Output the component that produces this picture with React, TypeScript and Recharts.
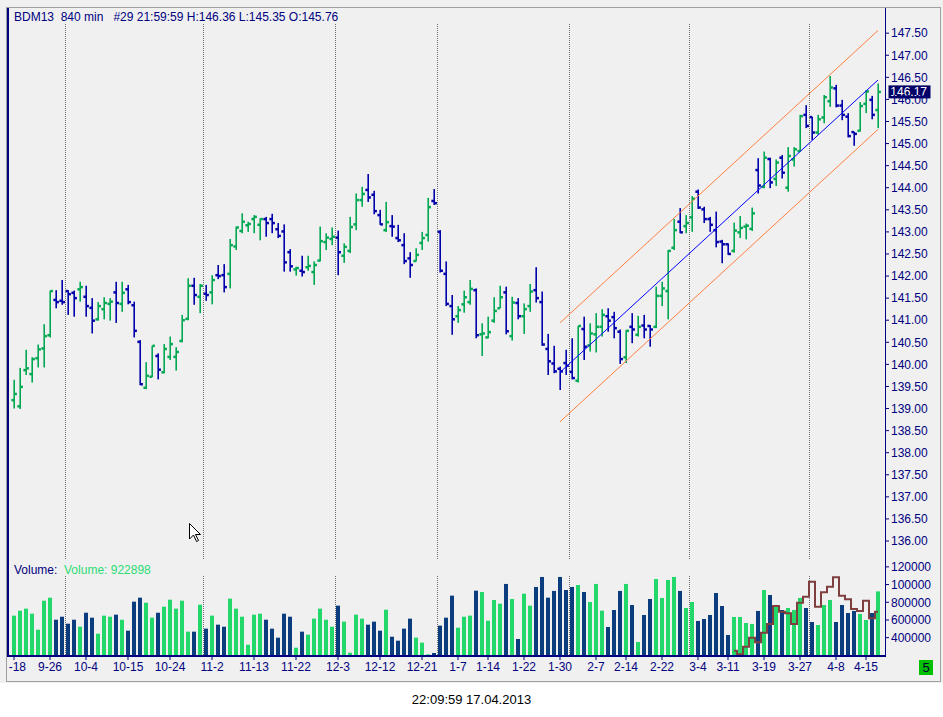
import React from 'react';
import { ComposedChart, Bar, Line, XAxis, YAxis, ReferenceLine, Cell } from 'recharts';

// 840 min bars, 145 of them
const opens = [
  139.19, 139.05, 139.87, 139.78, 140.14, 140.36, 140.66, 141.46, 141.44, 141.66,
  141.62, 141.70, 141.53, 141.28, 141.02, 141.25, 141.37, 141.63, 141.37, 141.70,
  141.34, 140.51, 139.47, 139.72, 140.19, 139.82, 140.17, 140.17, 140.53, 141.03,
  141.78, 141.53, 141.60, 141.63, 142.02, 142.02, 142.05, 142.67, 143.02, 143.15,
  143.29, 143.16, 143.29, 143.29, 143.06, 143.01, 142.54, 142.15, 142.12, 142.20,
  142.09, 142.35, 142.77, 142.84, 142.87, 142.46, 142.57, 143.17, 143.72, 143.95,
  143.84, 143.38, 143.04, 143.13, 142.86, 142.70, 142.40, 142.34, 142.75, 142.93,
  143.70, 143.00, 142.05, 141.32, 141.09, 141.36, 141.41, 141.68, 140.68, 140.61,
  140.99, 141.27, 141.63, 140.64, 141.39, 141.09, 141.32, 141.68, 141.41, 140.35,
  140.02, 139.90, 140.03, 139.83, 139.63, 140.80, 140.43, 140.68, 140.85, 141.09,
  141.07, 140.74, 140.16, 140.85, 140.67, 140.88, 140.87, 140.85, 141.55, 141.66,
  142.64, 143.23, 143.13, 143.33, 143.91, 143.51, 143.29, 143.04, 142.78, 142.72,
  142.57, 142.99, 143.12, 143.07, 144.40, 144.02, 144.65, 144.20, 144.68, 144.00,
  144.64, 144.83, 145.65, 145.60, 145.25, 145.59, 145.96, 146.25, 145.86, 145.61,
  145.26, 145.29, 145.90, 145.99, 145.76,
];
const highs = [
  139.65, 139.92, 140.33, 140.16, 140.45, 140.91, 141.67, 141.68, 141.91, 141.68,
  141.67, 141.87, 141.78, 141.50, 141.41, 141.52, 141.50, 141.87, 141.87, 141.80,
  141.42, 140.55, 140.05, 140.42, 140.25, 140.46, 140.63, 140.39, 141.12, 141.95,
  141.96, 141.82, 141.80, 142.02, 142.25, 142.27, 142.84, 143.12, 143.42, 143.23,
  143.38, 143.31, 143.34, 143.41, 143.20, 143.17, 142.61, 142.21, 142.46, 142.46,
  142.33, 143.12, 142.97, 143.10, 143.03, 142.74, 143.34, 143.87, 144.02, 144.31,
  143.93, 143.50, 143.68, 143.38, 143.16, 142.97, 142.54, 142.63, 143.00, 143.77,
  143.97, 143.04, 142.33, 141.57, 141.32, 141.67, 141.91, 141.72, 140.93, 141.08,
  141.52, 141.78, 141.76, 141.53, 141.50, 141.38, 141.82, 142.20, 141.65, 140.69,
  140.42, 139.95, 140.33, 140.59, 140.87, 141.08, 140.93, 141.16, 141.25, 141.27,
  141.19, 140.79, 140.78, 141.16, 141.10, 141.12, 140.89, 141.76, 141.87, 142.59,
  143.29, 143.54, 143.38, 143.81, 143.96, 143.57, 143.34, 143.46, 142.82, 142.74,
  143.21, 143.36, 143.19, 143.55, 144.67, 144.82, 144.68, 144.64, 144.74, 144.92,
  144.92, 145.65, 145.87, 145.61, 145.65, 146.10, 146.53, 146.33, 145.99, 145.69,
  145.27, 145.94, 146.21, 146.08, 146.36,
];
const lows = [
  139.00, 138.99, 139.76, 139.59, 139.93, 139.93, 140.61, 141.27, 141.35, 141.12,
  141.08, 141.42, 141.08, 140.70, 140.99, 141.02, 140.99, 140.94, 141.19, 141.36,
  140.61, 139.53, 139.44, 139.71, 139.66, 139.80, 140.10, 139.86, 140.50, 141.00,
  141.35, 141.16, 141.44, 141.36, 141.93, 141.63, 141.72, 142.59, 142.97, 143.00,
  142.97, 142.81, 142.89, 142.97, 142.86, 142.10, 142.10, 142.01, 141.99, 142.12,
  141.80, 142.33, 142.59, 142.70, 142.02, 142.30, 142.52, 143.04, 143.57, 143.68,
  143.40, 143.16, 143.00, 142.89, 142.77, 142.27, 141.96, 142.33, 142.59, 142.78,
  143.61, 142.08, 141.32, 140.67, 140.94, 141.17, 141.35, 140.59, 140.19, 140.59,
  140.94, 141.27, 140.68, 140.54, 141.02, 140.69, 141.19, 141.40, 140.42, 139.76,
  139.80, 139.42, 139.76, 139.66, 139.59, 140.10, 140.29, 140.27, 140.63, 140.74,
  140.59, 140.01, 140.03, 140.48, 140.63, 140.59, 140.40, 140.82, 141.32, 141.02,
  142.59, 142.97, 142.97, 143.00, 143.52, 143.20, 143.00, 142.65, 142.29, 142.48,
  142.53, 142.86, 142.83, 143.02, 143.87, 143.99, 143.99, 144.04, 144.21, 143.91,
  144.48, 144.82, 145.35, 145.08, 145.20, 145.46, 145.83, 145.82, 145.53, 145.14,
  144.95, 145.27, 145.69, 145.55, 145.35,
];
const closes = [
  139.33, 139.49, 139.91, 140.12, 140.34, 140.64, 141.66, 141.41, 141.41, 141.59,
  141.50, 141.75, 141.32, 140.99, 141.32, 141.39, 141.42, 141.39, 141.62, 141.41,
  140.76, 139.55, 139.74, 140.42, 139.88, 140.35, 140.46, 140.28, 141.00, 141.78,
  141.57, 141.78, 141.57, 141.91, 142.00, 141.75, 142.70, 143.10, 143.23, 143.18,
  143.34, 143.29, 143.20, 143.20, 142.91, 142.31, 142.22, 142.18, 142.09, 142.23,
  142.25, 142.79, 142.87, 142.89, 142.54, 142.66, 143.11, 143.72, 143.86, 143.78,
  143.47, 143.17, 143.22, 143.12, 142.81, 142.34, 142.25, 142.48, 142.86, 143.56,
  143.65, 142.12, 141.37, 141.02, 141.23, 141.52, 141.71, 140.66, 140.70, 140.73,
  141.21, 141.52, 140.75, 141.40, 141.09, 141.25, 141.65, 141.50, 140.45, 140.07,
  139.84, 139.84, 139.97, 139.69, 140.87, 140.40, 140.70, 140.85, 141.12, 140.99,
  140.82, 140.12, 140.76, 140.79, 140.85, 140.79, 140.79, 141.55, 141.72, 142.57,
  143.04, 142.99, 143.20, 143.75, 143.55, 143.29, 143.16, 142.77, 142.72, 142.50,
  143.03, 143.09, 143.14, 143.42, 144.05, 144.68, 144.12, 144.57, 144.34, 144.72,
  144.87, 145.62, 145.40, 145.25, 145.55, 146.05, 146.27, 145.86, 145.65, 145.17,
  145.22, 145.85, 146.18, 145.65, 146.17,
];
const volumes = [
  649000, 705000, 728000, 671000, 490000, 818000, 852000, 603000, 637000, 558000,
  603000, 524000, 682000, 626000, 445000, 649000, 637000, 660000, 603000, 479000,
  807000, 852000, 795000, 626000, 682000, 750000, 829000, 728000, 818000, 468000,
  468000, 773000, 502000, 649000, 547000, 524000, 841000, 728000, 637000, 321000,
  660000, 671000, 603000, 502000, 400000, 671000, 637000, 287000, 468000, 434000,
  615000, 728000, 603000, 524000, 762000, 581000, 230000, 660000, 615000, 547000,
  581000, 479000, 716000, 411000, 366000, 502000, 615000, 400000, 344000, 212000,
  227000, 536000, 626000, 875000, 513000, 637000, 649000, 931000, 916000, 592000,
  826000, 784000, 1007000, 837000, 385000, 897000, 762000, 973000, 1086000, 852000,
  928000, 1086000, 939000, 973000, 995000, 916000, 803000, 1007000, 705000, 521000,
  713000, 928000, 1007000, 769000, 351000, 656000, 837000, 1063000, 849000, 1052000,
  1086000, 928000, 735000, 803000, 589000, 611000, 656000, 905000, 758000, 430000,
  634000, 634000, 566000, 555000, 702000, 939000, 882000, 758000, 713000, 735000,
  713000, 849000, 735000, 577000, 543000, 769000, 826000, 577000, 769000, 679000,
  702000, 668000, 600000, 679000, 922898,
];
// brown step line in the volume pane, from bar 120 on
const overlayStart = 120;
const overlayValues = [
  253000, 212000, 298000, 400000, 348000, 456000, 555000, 758000, 694000, 676000,
  555000, 795000, 863000, 1033000, 750000, 913000, 976000, 1083000, 875000, 834000,
  724000, 702000, 818000, 619000, 694000,
];

// regression channel, end points only
const channelFrom = 91;
const channelTo = 144;
const channelUpper = [140.94, 147.56];
const channelMid = [139.82, 146.44];
const channelLower = [138.7, 145.32];

const monthStarts = [9, 32, 54, 71, 93, 113, 133];
const tickIndex = [0, 6, 12, 19, 26, 33, 40, 47, 54, 61, 68, 74, 79, 85, 91, 97, 102, 108, 114, 119, 125, 131, 137, 142];
const tickLabels = [
  '9-18', '9-26', '10-4', '10-15', '10-24', '11-2', '11-13', '11-22', '12-3', '12-12', '12-21',
  '1-7', '1-14', '1-22', '1-30', '2-7', '2-14', '2-22', '3-4', '3-11', '3-19', '3-27', '4-8', '4-15',
];
const priceTicks = [
  136, 136.5, 137, 137.5, 138, 138.5, 139, 139.5, 140, 140.5, 141, 141.5,
  142, 142.5, 143, 143.5, 144, 144.5, 145, 145.5, 146, 146.5, 147, 147.5,
];
const volumeTicks = [400000, 600000, 800000, 1000000, 1200000];
const lastPrice = 146.17;
const lastVolume = 922898;

const NAVY = '#000080';
const UP = '#00a852';
const DOWN = '#0000aa';
const VOL_UP = '#22d86a';
const VOL_DOWN = '#0b3c7e';
const GRID = '#6e6e6e';
const FONT = '"Liberation Sans", Arial, sans-serif';

const data = opens.map((open, i) => ({
  idx: i,
  open,
  high: highs[i],
  low: lows[i],
  close: closes[i],
  vol: volumes[i],
  overlay: i >= overlayStart ? overlayValues[i - overlayStart] : null,
  chU: i === channelFrom ? channelUpper[0] : i === channelTo ? channelUpper[1] : null,
  chM: i === channelFrom ? channelMid[0] : i === channelTo ? channelMid[1] : null,
  chL: i === channelFrom ? channelLower[0] : i === channelTo ? channelLower[1] : null,
}));

// open tick on the left, close tick on the right
const OhlcShape = (props: any) => {
  const { x, y, width, height, payload } = props;
  if (x == null || y == null || !payload) return null;
  const top = height < 0 ? y + height : y;
  const h = Math.abs(height);
  const { open, high, low, close } = payload;
  const span = high - low || 1;
  const yOf = (v: number) => top + ((high - v) / span) * h;
  const cx = x + width / 2;
  const color = close >= open ? UP : DOWN;
  return (
    <g>
      <rect x={cx - 0.7} y={top} width={1.6} height={Math.max(h, 1)} fill={color} />
      <rect x={cx - 2.7} y={yOf(open) - 1.25} width={2.5} height={2.5} fill={color} />
      <rect x={cx + 0.3} y={yOf(close) - 1.25} width={2.5} height={2.5} fill={color} />
    </g>
  );
};

const LastPriceTag = (props: any) => {
  const vb = props.viewBox;
  if (!vb) return null;
  const x = vb.x + vb.width + 3.5;
  return (
    <g>
      <rect x={x} y={vb.y - 6.5} width={42} height={13} fill="#000066" />
      <text x={x + 1.8} y={vb.y + 4.4} fill="#ffffff" fontSize={12} fontFamily={FONT}>
        {lastPrice.toFixed(2)}
      </text>
    </g>
  );
};

const axisTick = { fill: NAVY, fontSize: 12, fontFamily: FONT };

export default function App() {
  return (
    <div style={{ position: 'absolute', left: 0, top: 0, width: 943, height: 717, background: '#ffffff', fontFamily: FONT, overflow: 'hidden' }}>
      <div style={{ position: 'absolute', left: 0, top: 0, width: 943, height: 683, background: '#f0f0f0' }} />
      <div style={{ position: 'absolute', left: 6, top: 7, width: 935, height: 675, border: '1px solid #a0a0a0', boxSizing: 'border-box' }} />

      {/* price pane */}
      <div style={{ position: 'absolute', left: 0, top: 0 }}>
        <ComposedChart width={943} height={562} data={data} margin={{ top: 8, right: 0, left: 11, bottom: 2 }}>
          <XAxis dataKey="idx" type="category" hide padding={{ left: 0, right: 4 }} />
          <YAxis
            orientation="right"
            type="number"
            width={58}
            domain={[135.57, 148.07]}
            allowDataOverflow
            ticks={priceTicks}
            interval={0}
            tickFormatter={(v: number) => v.toFixed(2)}
            axisLine={false}
            tickLine={{ stroke: NAVY }}
            tickSize={4}
            tickMargin={2}
            tick={axisTick}
          />
          {monthStarts.map((m) => (
            <ReferenceLine
              key={m}
              segment={[{ x: m, y: 147.7 }, { x: m, y: 135.6 }]}
              position="start"
              stroke={GRID}
              strokeDasharray="1 1"
              shapeRendering="crispEdges"
              ifOverflow="visible"
            />
          ))}
          <Bar dataKey={(d: any) => [d.low, d.high]} shape={<OhlcShape />} isAnimationActive={false} />
          <Line dataKey="chU" stroke="#ff7f40" strokeWidth={1} dot={false} connectNulls isAnimationActive={false} />
          <Line dataKey="chM" stroke="#0000ff" strokeWidth={1} dot={false} connectNulls isAnimationActive={false} />
          <Line dataKey="chL" stroke="#ff7f40" strokeWidth={1} dot={false} connectNulls isAnimationActive={false} />
          <ReferenceLine y={lastPrice} stroke="none" ifOverflow="visible" label={(p: any) => <LastPriceTag {...p} />} />
        </ComposedChart>
      </div>

      {/* volume pane */}
      <div style={{ position: 'absolute', left: 9, top: 560, width: 934, height: 122, overflow: 'hidden' }}>
        <div style={{ position: 'absolute', left: -9, top: 0 }}>
          <ComposedChart width={943} height={122} data={data} margin={{ top: 2, right: 0, left: 11, bottom: 0 }}>
            <XAxis
              dataKey="idx"
              type="category"
              padding={{ left: 0, right: 4 }}
              ticks={tickIndex}
              interval={0}
              tickFormatter={(v: number) => tickLabels[tickIndex.indexOf(v)]}
              height={26}
              axisLine={false}
              tickLine={{ stroke: NAVY }}
              tickSize={4}
              tickMargin={2}
              tick={axisTick}
            />
            <YAxis
              orientation="right"
              type="number"
              width={58}
              domain={[193000, 1255000]}
              allowDataOverflow
              ticks={volumeTicks}
              interval={0}
              tickFormatter={(v: number) => String(v).slice(0, 6)}
              axisLine={false}
              tickLine={{ stroke: NAVY }}
              tickSize={4}
              tickMargin={2}
              tick={axisTick}
            />
            {monthStarts.map((m) => (
              <ReferenceLine
                key={m}
                segment={[{ x: m, y: 1100000 }, { x: m, y: 193000 }]}
                position="start"
                stroke={GRID}
                strokeDasharray="1 1"
                shapeRendering="crispEdges"
                ifOverflow="visible"
              />
            ))}
            <Bar dataKey="vol" barSize={4} isAnimationActive={false}>
              {data.map((d) => (
                <Cell key={d.idx} fill={d.close >= d.open ? VOL_UP : VOL_DOWN} />
              ))}
            </Bar>
            <Line dataKey="overlay" type="step" stroke="#7f3f3f" strokeWidth={2} dot={false} isAnimationActive={false} />
          </ComposedChart>
        </div>
      </div>

      {/* frame lines */}
      <div style={{ position: 'absolute', left: 7, top: 8, width: 2, height: 649, background: NAVY }} />
      <div style={{ position: 'absolute', left: 885, top: 8, width: 1, height: 649, background: NAVY }} />
      <div style={{ position: 'absolute', left: 7, top: 655, width: 879, height: 2, background: NAVY }} />

      {/* header and pane labels */}
      <div style={{ position: 'absolute', left: 14, top: 10, fontSize: 12, lineHeight: '14px', color: NAVY, whiteSpace: 'pre' }}>
        {'BDM13  840 min   #29 21:59:59 H:146.36 L:145.35 O:145.76'}
      </div>
      <div style={{ position: 'absolute', left: 14, top: 563, fontSize: 12, lineHeight: '14px', color: NAVY, whiteSpace: 'pre' }}>
        {'Volume:  '}
        <span style={{ color: '#2ddc75' }}>{'Volume: ' + lastVolume}</span>
      </div>
      <div style={{ position: 'absolute', left: 919, top: 660, width: 14, height: 15, background: '#00c000', color: '#000033', fontSize: 13, lineHeight: '15px', textAlign: 'center' }}>
        5
      </div>
      <svg style={{ position: 'absolute', left: 189, top: 523 }} width={13} height={20}>
        <polygon points="0.5,0.5 0.5,16 4.5,12 7.5,18.5 9.5,17.5 6.5,11.5 11.5,11.5" fill="#ffffff" stroke="#000000" strokeWidth={1} />
      </svg>
      <div style={{ position: 'absolute', left: 0, top: 692, width: 943, textAlign: 'center', fontSize: 13, lineHeight: '15px', color: '#000000' }}>
        22:09:59 17.04.2013
      </div>
    </div>
  );
}
